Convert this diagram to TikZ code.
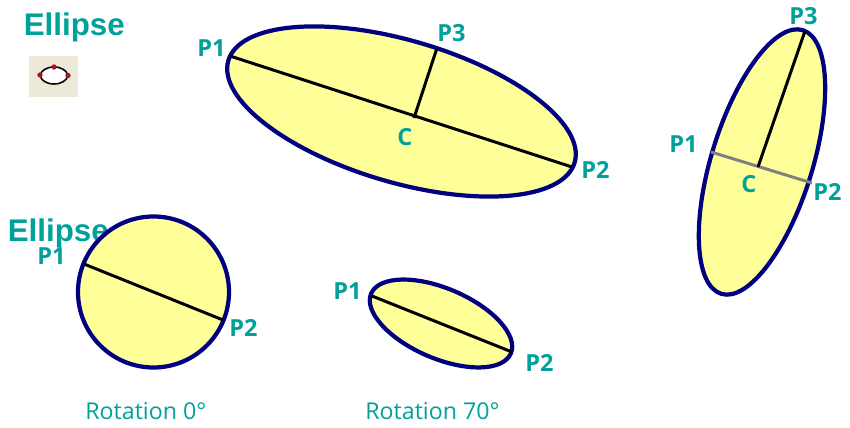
\documentclass[tikz,border=0pt]{standalone}
\usepackage{fontspec}
\setmainfont{Liberation Sans}
\newfontfamily\labelfont{Open Sans}
\usetikzlibrary{shapes.geometric}
\definecolor{labcol}{RGB}{0,160,155}
\definecolor{rimcol}{RGB}{0,0,128}
\definecolor{fillcol}{RGB}{255,255,153}
\definecolor{iconcol}{RGB}{236,233,216}
\definecolor{dotcol}{RGB}{170,20,30}

\begin{document}
\begin{tikzpicture}[
  x=0.02cm, y=-0.02cm,
  title/.style={labcol,anchor=base west,inner sep=0pt,font=\fontsize{17.8}{20}\selectfont\bfseries},
  plab/.style={labcol,anchor=base west,inner sep=0pt,font=\fontsize{13.4}{15}\labelfont\bfseries},
  rotlab/.style={labcol,anchor=base west,inner sep=0pt,font=\fontsize{13.2}{15}\labelfont},
  rim/.style={draw=rimcol,fill=fillcol,line width=2.4pt},
  axisline/.style={black,line width=1.7pt},
  grip/.style={circle,fill=dotcol,minimum size=3pt,inner sep=0pt},
]
\useasboundingbox (0,0) rectangle (850,428);

% --- titles and toolbar icon ---
\node[title] (title1) at (23.5,36) {Ellipse};
\node[title] (title2) at (7.5,242) {Ellipse};
\node[fill=iconcol,minimum width=0.98cm,minimum height=0.82cm,inner sep=0pt] (icon) at (53.5,76.5) {};
\node[ellipse,draw=black,fill=white,line width=0.9pt,minimum width=0.54cm,minimum height=0.34cm,inner sep=0pt] (iconrim) at (54,75.5) {};
\node[grip] (gripa) at (40,75) {};
\node[grip] (gripb) at (54,67) {};
\node[grip] (gripc) at (68,75.5) {};

% --- rotation 0: circle ---
\draw[rim] (153.5,292) circle (75.5);
\coordinate (circP1) at (84,264);
\coordinate (circP2) at (223,320);
\draw[axisline] (circP1) -- (circP2);
\node[plab] (circlab1) at (37,265) {P1};
\node[plab] (circlab2) at (229,337) {P2};
\node[rotlab] (rotlab0) at (85,420) {Rotation 0°};

% --- rotation 70: small ellipse ---
\draw[rim,rotate around={-23.2:(441,323.5)}] (441,323.5) ellipse (76 and 35);
\coordinate (smallP1) at (372,296);
\coordinate (smallP2) at (512,352);
\draw[axisline] (smallP1) -- (smallP2);
\node[plab] (smalllab1) at (333,300) {P1};
\node[plab] (smalllab2) at (525,372) {P2};
\node[rotlab] (rotlab70) at (365,420) {Rotation 70°};

% --- big ellipse ---
\draw[rim,rotate around={-16.4:(401.5,111.5)}] (401.5,111.5) ellipse (180.5 and 71);
\coordinate (bigP1) at (230,56);
\coordinate (bigP2) at (572,167);
\coordinate (bigP3) at (437,48);
\coordinate (bigC) at (414,118);
\draw[axisline] (bigP1) -- (bigP2);
\draw[axisline] (bigC) -- (bigP3);
\node[plab] (biglab1) at (197,57) {P1};
\node[plab] (biglab2) at (581,179) {P2};
\node[plab] (biglab3) at (437,42) {P3};
\node[plab] (biglabc) at (397,146) {C};

% --- upright ellipse ---
\draw[rim,rotate around={72.8:(762,162)}] (762,162) ellipse (138 and 50.5);
\coordinate (upP1) at (711,152);
\coordinate (upP2) at (812,183);
\coordinate (upP3) at (805,31);
\coordinate (upC) at (758,167);
\draw[gray,line width=1.7pt] (upP1) -- (upP2);
\draw[axisline] (upC) -- (upP3);
\node[plab] (uplab1) at (669,153) {P1};
\node[plab] (uplab2) at (813,201) {P2};
\node[plab] (uplab3) at (789,25) {P3};
\node[plab] (uplabc) at (741,193) {C};
\end{tikzpicture}
\end{document}
